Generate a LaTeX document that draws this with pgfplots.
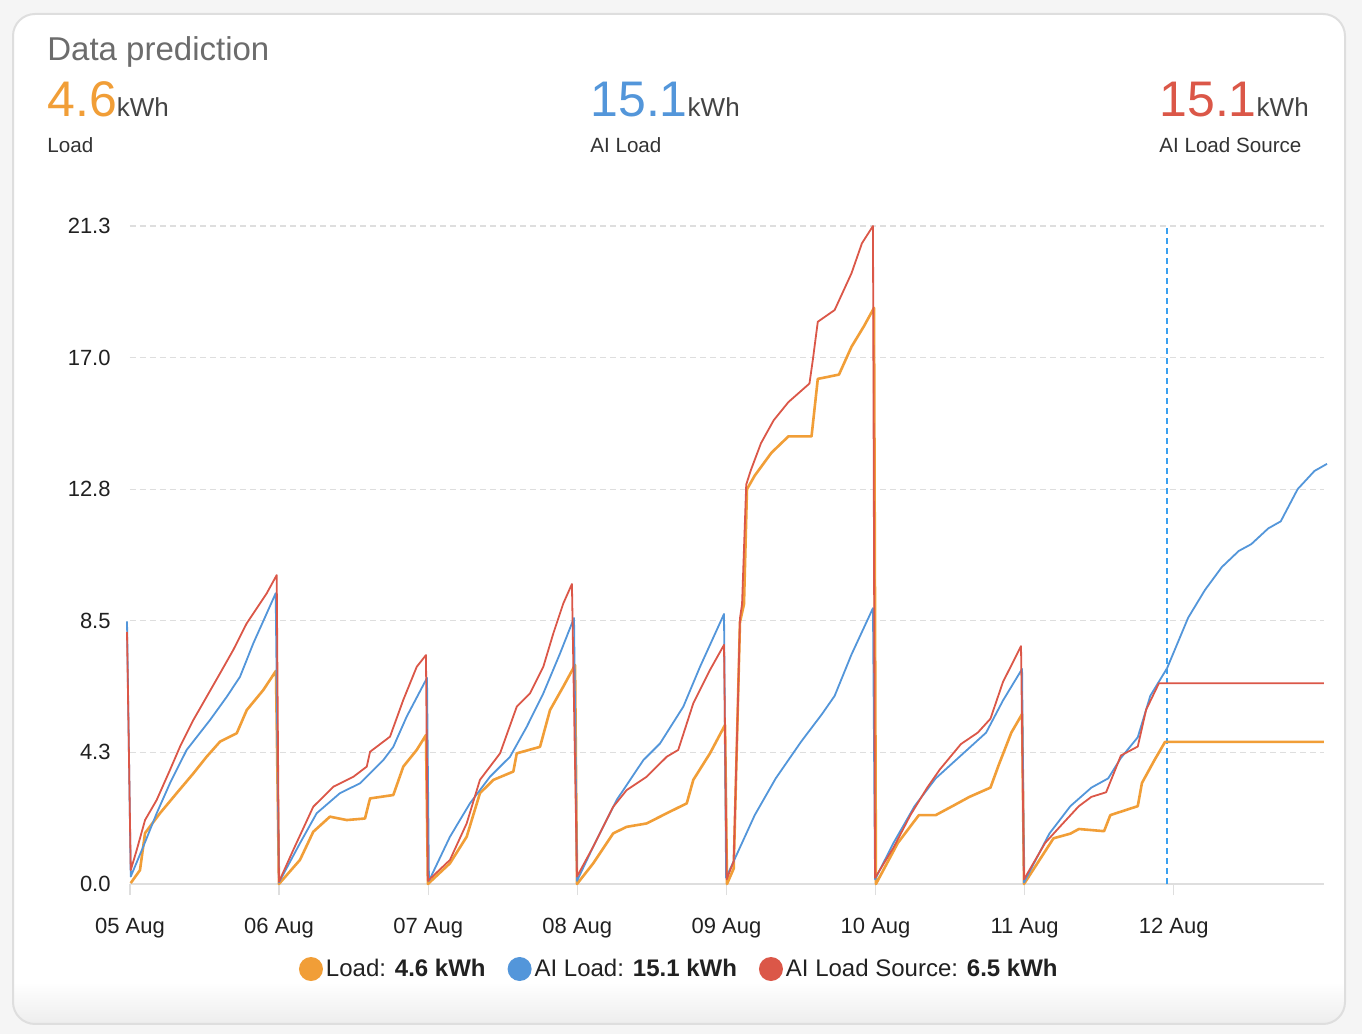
\documentclass[border=0pt]{standalone}
\usepackage{pgfplots}
\pgfplotsset{compat=1.18}
\usepackage{fontspec}
\setmainfont{Liberation Sans}
\definecolor{cOrange}{RGB}{241,158,55}
\definecolor{cBlue}{RGB}{83,150,218}
\definecolor{cRed}{RGB}{219,87,72}
\definecolor{cNow}{RGB}{58,160,240}
\definecolor{bggray}{RGB}{245,245,245}
\definecolor{cardborder}{RGB}{222,222,222}
\definecolor{gridgray}{RGB}{222,222,222}
\definecolor{titlegray}{RGB}{108,108,108}
\definecolor{unitgray}{RGB}{68,68,68}
\definecolor{labelgray}{RGB}{51,51,51}
\definecolor{darktext}{RGB}{33,33,33}
\begin{document}
\begin{tikzpicture}
\path[use as bounding box] (0pt,0pt) rectangle (681pt,517pt);
\fill[bggray] (0pt,0pt) rectangle (681pt,517pt);
\begin{scope}
\clip[rounded corners=11pt] (6.5pt,5pt) rectangle (672.5pt,510pt);
\fill[white] (6.5pt,5pt) rectangle (672.5pt,510pt);
\shade[top color=white, bottom color=black!7] (6.5pt,5pt) rectangle (672.5pt,26pt);
\end{scope}
\draw[cardborder, line width=1pt, rounded corners=11pt] (6.5pt,5pt) rectangle (672.5pt,510pt);
% header texts
\node[anchor=base west, inner sep=0pt, text=titlegray] at (23.5pt,486.5pt) {\fontsize{16.5}{18}\selectfont Data prediction};
\node[anchor=base west, inner sep=0pt] at (23.5pt,458.5pt) {{\fontsize{25}{26}\selectfont\color{cOrange}4.6}{\fontsize{13}{14}\selectfont\color{unitgray}kWh}};
\node[anchor=base west, inner sep=0pt] at (295pt,458.5pt) {{\fontsize{25}{26}\selectfont\color{cBlue}15.1}{\fontsize{13}{14}\selectfont\color{unitgray}kWh}};
\node[anchor=base west, inner sep=0pt] at (579.5pt,458.5pt) {{\fontsize{25}{26}\selectfont\color{cRed}15.1}{\fontsize{13}{14}\selectfont\color{unitgray}kWh}};
\node[anchor=base west, inner sep=0pt, text=labelgray] at (23.5pt,440.5pt) {\fontsize{10.3}{12}\selectfont Load};
\node[anchor=base west, inner sep=0pt, text=labelgray] at (295pt,440.5pt) {\fontsize{10.3}{12}\selectfont AI Load};
\node[anchor=base west, inner sep=0pt, text=labelgray] at (579.5pt,440.5pt) {\fontsize{10.3}{12}\selectfont AI Load Source};
\begin{axis}[
  at={(65pt,75pt)}, anchor=south west,
  scale only axis, width=597pt, height=329pt,
  xmin=0, xmax=8.008, ymin=0, ymax=21.3,
  clip=false,
  axis x line*=bottom, axis y line*=left,
  x axis line style={draw=gridgray, line width=1.2pt, -},
  y axis line style={draw=none},
  xtick={0,1,2,3,4,5,6,7},
  xticklabels={05 Aug,06 Aug,07 Aug,08 Aug,09 Aug,10 Aug,11 Aug,12 Aug},
  ytick={0,4.26,8.52,12.78,17.04,21.3},
  yticklabels={0.0,4.3,8.5,12.8,17.0,21.3},
  ymajorgrids,
  grid style={gridgray, line width=0.7pt, dash pattern=on 3pt off 2pt},
  tick align=outside,
  xtick style={draw=gridgray, line width=0.7pt},
  ytick style={draw=none},
  major tick length=5.5pt,
  /pgf/number format/assume math mode=true,
  ticklabel style={font=\fontsize{11}{13}\selectfont, text=darktext},
  xticklabel style={anchor=base, yshift=-19pt},
  yticklabel style={anchor=east, inner sep=0pt, xshift=-4pt},
  legend columns=3,
  legend style={draw=none, fill=none, at={(0.4605,-0.1292)}, anchor=center,
    font=\fontsize{12}{14}\selectfont, text=darktext,
    /tikz/every even column/.append style={column sep=9.5pt},
    nodes={inner sep=1.5pt}},
  legend image code/.code={\fill[#1, draw=none] (0pt,0pt) circle (6pt);},
]
\addplot[cNow, line width=1pt, dash pattern=on 3pt off 2pt, forget plot] coordinates {(6.955,0) (6.955,21.3)};
\addplot[color=cOrange, line width=1.3pt, line join=round] coordinates {
(0.005,0.03)(0.067,0.45)(0.101,1.65)(0.201,2.29)(0.313,2.94)(0.425,3.58)(0.514,4.12)(0.604,4.61)(0.716,4.88)(0.783,5.63)(0.894,6.28)(0.979,6.9)(0.999,0.0)
(1.140,0.78)(1.229,1.69)(1.341,2.18)(1.453,2.07)(1.576,2.12)(1.610,2.77)(1.766,2.88)(1.833,3.8)(1.923,4.34)(1.985,4.82)(1.998,0.0)
(2.146,0.67)(2.258,1.53)(2.347,2.94)(2.437,3.37)(2.571,3.64)(2.594,4.23)(2.750,4.44)(2.817,5.63)(2.906,6.39)(2.985,7.09)(2.998,0.0)
(3.107,0.67)(3.241,1.64)(3.331,1.85)(3.465,1.96)(3.600,2.29)(3.734,2.61)(3.778,3.37)(3.890,4.23)(3.991,5.15)(4.004,0.0)
(4.049,0.5)(4.091,8.48)(4.118,9.06)(4.138,12.78)(4.190,13.22)(4.302,13.96)(4.416,14.49)(4.571,14.49)(4.613,16.35)(4.755,16.49)(4.839,17.39)(4.923,18.06)(4.990,18.65)(5.003,0.0)
(5.150,1.33)(5.291,2.23)(5.404,2.23)(5.516,2.52)(5.630,2.82)(5.771,3.12)(5.827,3.86)(5.911,4.9)(5.983,5.5)(5.996,0.0)
(6.194,1.48)(6.307,1.63)(6.364,1.78)(6.533,1.71)(6.575,2.23)(6.759,2.52)(6.787,3.27)(6.871,4.01)(6.942,4.6)(8.008,4.6)
};
\addlegendentry{Load: \textbf{4.6 kWh}}
\addplot[color=cBlue, line width=0.9pt, line join=round] coordinates {
(-0.020,8.5)(0.005,0.24)(0.089,1.21)(0.179,2.29)(0.268,3.26)(0.380,4.34)(0.537,5.31)(0.649,6.06)(0.738,6.71)(0.827,7.79)(0.917,8.76)(0.977,9.41)(0.999,0.05)
(1.140,1.32)(1.252,2.29)(1.408,2.94)(1.543,3.26)(1.699,4.01)(1.766,4.44)(1.856,5.42)(1.992,6.67)(2.005,0.1)
(2.146,1.53)(2.280,2.61)(2.414,3.47)(2.549,4.12)(2.661,5.09)(2.772,6.17)(2.884,7.46)(2.978,8.61)(2.998,0.1)
(3.107,1.21)(3.264,2.72)(3.443,4.01)(3.555,4.55)(3.711,5.74)(3.823,7.03)(3.984,8.74)(3.998,0.2)
(4.049,0.74)(4.190,2.23)(4.331,3.42)(4.500,4.6)(4.641,5.5)(4.726,6.09)(4.839,7.43)(4.983,8.93)(4.997,0.15)
(5.121,1.33)(5.262,2.52)(5.404,3.42)(5.573,4.16)(5.742,4.9)(5.855,5.94)(5.983,6.96)(5.996,0.05)
(6.166,1.63)(6.307,2.52)(6.448,3.12)(6.561,3.42)(6.646,4.08)(6.759,4.75)(6.843,6.09)(6.956,6.99)(7.097,8.62)(7.210,9.52)(7.323,10.26)(7.436,10.78)(7.520,11.0)(7.634,11.51)(7.718,11.74)(7.831,12.78)(7.944,13.37)(8.028,13.6)
};
\addlegendentry{AI Load: \textbf{15.1 kWh}}
\addplot[color=cRed, line width=0.9pt, line join=round] coordinates {
(-0.020,8.16)(0.005,0.45)(0.045,1.1)(0.101,2.07)(0.179,2.72)(0.268,3.69)(0.335,4.44)(0.425,5.31)(0.514,6.06)(0.604,6.82)(0.693,7.58)(0.783,8.44)(0.917,9.41)(0.984,10.0)(0.999,0.07)
(1.095,1.1)(1.229,2.5)(1.364,3.15)(1.498,3.47)(1.588,3.8)(1.610,4.28)(1.744,4.77)(1.833,5.96)(1.923,7.03)(1.985,7.41)(1.998,0.1)
(2.146,0.78)(2.258,1.96)(2.347,3.37)(2.482,4.23)(2.594,5.74)(2.683,6.17)(2.772,7.03)(2.839,8.11)(2.906,9.08)(2.964,9.71)(2.998,0.24)
(3.107,1.21)(3.241,2.5)(3.331,3.04)(3.465,3.47)(3.600,4.12)(3.677,4.34)(3.778,5.85)(3.890,6.93)(3.984,7.74)(4.002,0.15)
(4.049,0.74)(4.077,5.8)(4.091,8.6)(4.105,9.06)(4.133,12.93)(4.162,13.37)(4.232,14.27)(4.317,15.01)(4.416,15.6)(4.557,16.2)(4.579,16.94)(4.613,18.2)(4.726,18.58)(4.839,19.77)(4.909,20.74)(4.983,21.3)(4.997,0.2)
(5.121,1.18)(5.234,2.23)(5.347,3.12)(5.432,3.71)(5.573,4.53)(5.686,4.9)(5.771,5.35)(5.855,6.54)(5.976,7.7)(5.996,0.15)
(6.138,1.33)(6.251,1.93)(6.364,2.52)(6.448,2.82)(6.547,2.97)(6.646,4.16)(6.759,4.45)(6.815,5.64)(6.901,6.5)(8.008,6.5)
};
\addlegendentry{AI Load Source: \textbf{6.5 kWh}}
\end{axis}
\end{tikzpicture}
\end{document}
